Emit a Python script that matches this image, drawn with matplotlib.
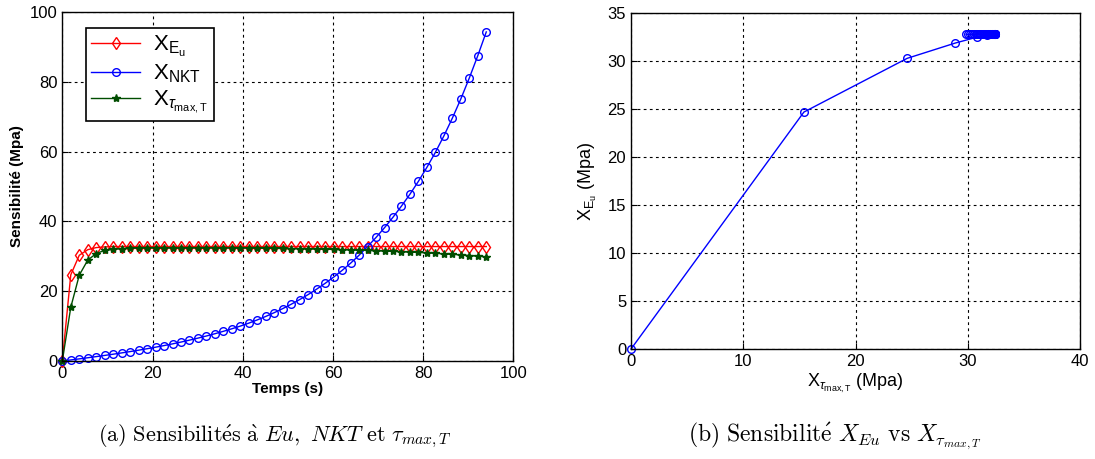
import matplotlib
matplotlib.use("Agg")
import matplotlib.pyplot as plt

plt.rcParams['font.family'] = ['Liberation Sans', 'DejaVu Sans']
plt.rcParams['mathtext.fontset'] = 'custom'
plt.rcParams['mathtext.rm'] = 'Liberation Sans'
plt.rcParams['mathtext.it'] = 'Liberation Sans:italic'
plt.rcParams['mathtext.bf'] = 'Liberation Sans:bold'

# temps (s)
temps = [0.00, 1.88, 3.76, 5.64, 7.52, 9.40, 11.28, 13.16, 15.04, 16.92,
         18.80, 20.68, 22.56, 24.44, 26.32, 28.20, 30.08, 31.96, 33.84, 35.72,
         37.60, 39.48, 41.36, 43.24, 45.12, 47.00, 48.88, 50.76, 52.64, 54.52,
         56.40, 58.28, 60.16, 62.04, 63.92, 65.80, 67.68, 69.56, 71.44, 73.32,
         75.20, 77.08, 78.96, 80.84, 82.72, 84.60, 86.48, 88.36, 90.24, 92.12,
         94.00]

# sensibilites (Mpa)
x_eu = [0.0, 24.7, 30.3, 31.9, 32.5, 32.7] + [32.8] * 45

x_nkt = [0.00, 0.30, 0.61, 0.93, 1.26, 1.60, 1.95, 2.32, 2.70, 3.10,
         3.52, 3.96, 4.42, 4.91, 5.43, 5.98, 6.56, 7.17, 7.82, 8.51,
         9.24, 10.01, 10.86, 11.78, 12.78, 13.86, 15.02, 16.27, 17.61, 19.05,
         20.60, 22.26, 24.04, 25.96, 28.03, 30.31, 32.80, 35.40, 38.20, 41.20,
         44.40, 47.80, 51.50, 55.50, 59.80, 64.50, 69.60, 75.10, 81.10, 87.50,
         94.30]

x_tau = [0.0, 15.4, 24.6, 28.9, 30.8, 31.7, 32.0, 32.2, 32.3, 32.35,
         32.4, 32.4, 32.4, 32.4, 32.4, 32.4, 32.4, 32.4, 32.4, 32.4,
         32.4, 32.38, 32.35, 32.33, 32.3, 32.27, 32.24, 32.2, 32.16, 32.12,
         32.07, 32.02, 31.96, 31.9, 31.83, 31.76, 31.68, 31.6, 31.51, 31.42,
         31.32, 31.21, 31.1, 30.98, 30.85, 30.71, 30.56, 30.4, 30.23, 30.05,
         29.86]

vert = (0, 0.3, 0)

fig = plt.figure(figsize=(10.95, 4.59), dpi=100)
ax1 = fig.add_axes([0.0569, 0.2135, 0.4119, 0.7603])
ax2 = fig.add_axes([0.5763, 0.2397, 0.4100, 0.7314])

# (a)
ax1.plot(temps, x_eu, '-d', color='red', mfc='none', ms=6, lw=1.0,
         mew=1.0, clip_on=False, label=r'X$_{\mathrm{E}_\mathrm{u}}$')
ax1.plot(temps, x_nkt, '-o', color='blue', mfc='none', ms=5.5, lw=1.0,
         mew=1.0, clip_on=False, label=r'X$_{\mathrm{NKT}}$')
ax1.plot(temps, x_tau, '-*', color=vert, mfc=vert, ms=6, lw=1.0,
         clip_on=False, label=r'X$_{\tau_{\mathrm{max,T}}}$')
ax1.set_xlim(0, 100)
ax1.set_ylim(0, 100)
ax1.set_xticks(range(0, 101, 20))
ax1.set_yticks(range(0, 101, 20))
ax1.set_xlabel('Temps (s)', fontsize=11, fontweight='bold', labelpad=1)
ax1.set_ylabel('Sensibilité (Mpa)', fontsize=11, fontweight='bold', labelpad=4)
leg = ax1.legend(loc='upper left', bbox_to_anchor=(0.027, 0.985), fontsize=16,
                 fancybox=False, framealpha=1, edgecolor='black',
                 handlelength=2.2, borderpad=0.25, labelspacing=0.15,
                 handletextpad=0.6)
leg.get_frame().set_linewidth(1.2)

# (b)
ax2.plot(x_tau, x_eu, '-o', color='blue', mfc='none', ms=5.5, lw=1.0,
         mew=1.0, clip_on=False)
ax2.set_xlim(0, 40)
ax2.set_ylim(0, 35)
ax2.set_xticks(range(0, 41, 10))
ax2.set_yticks(range(0, 36, 5))
ax2.set_xlabel(r'X$_{\tau_{\mathrm{max,T}}}$ (Mpa)', fontsize=13, labelpad=2)
ax2.set_ylabel(r'X$_{\mathrm{E}_\mathrm{u}}$ (Mpa)', fontsize=13, labelpad=6)

for ax in (ax1, ax2):
    ax.grid(True, linestyle=(0, (2.5, 3)), color='black', lw=0.8)
    ax.tick_params(direction='in', labelsize=12, length=4)
    for s in ax.spines.values():
        s.set_linewidth(1.0)
        s.set_zorder(3)

fig.text(0.251, 0.05,
         r'$\mathrm{(a)\ Sensibilit\acute{e}s\ \grave{a}\ }Eu\mathrm{,\ }NKT\mathrm{\ et\ }\tau_{max,T}$',
         ha='center', va='center', fontsize=16, math_fontfamily='cm')
fig.text(0.762, 0.05,
         r'$\mathrm{(b)\ Sensibilit\acute{e}\ }X_{Eu}\mathrm{\ vs\ }X_{\tau_{max,T}}$',
         ha='center', va='center', fontsize=17, math_fontfamily='cm')

fig.savefig('out.png', dpi=100)
